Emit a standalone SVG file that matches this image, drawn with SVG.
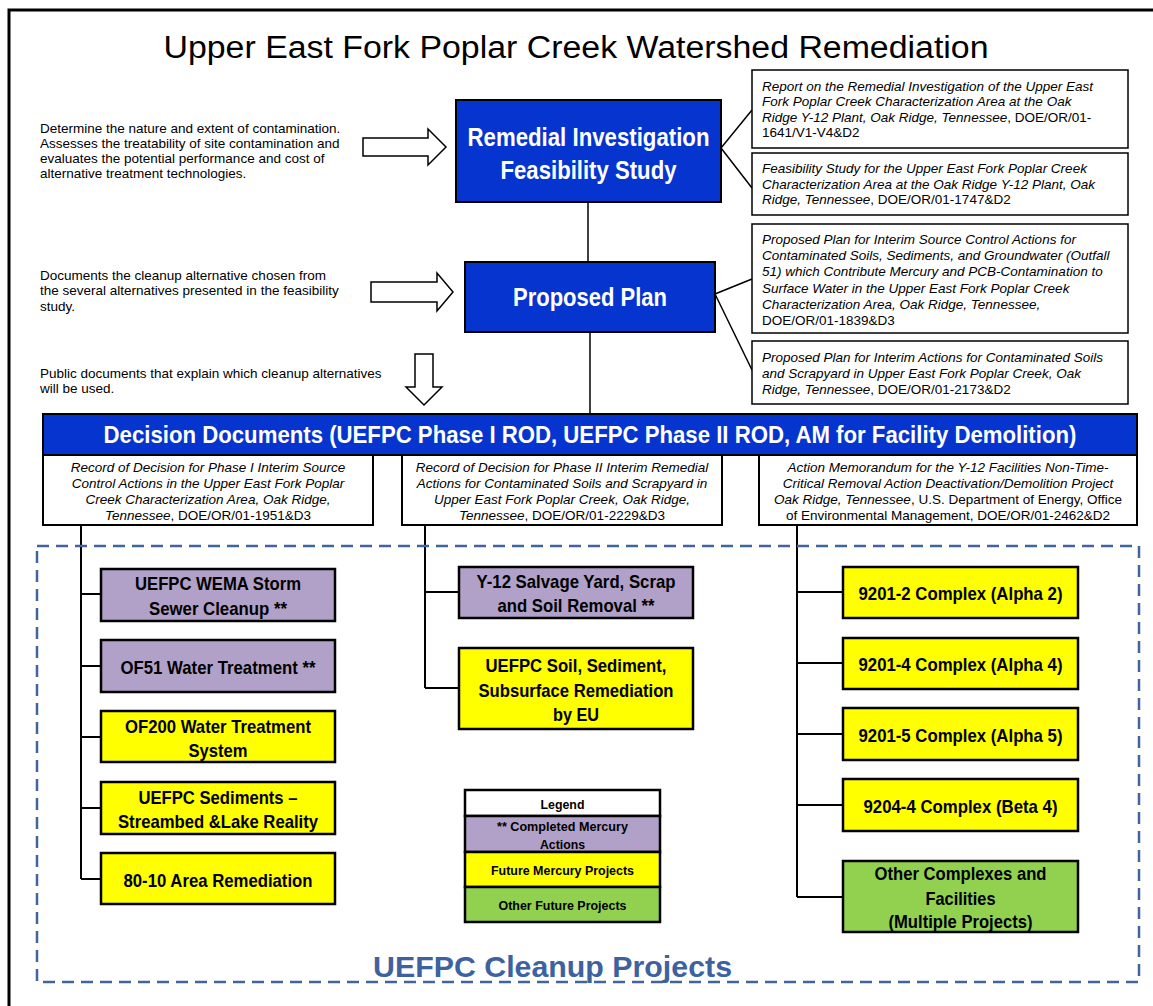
<svg xmlns="http://www.w3.org/2000/svg" width="1153" height="1006" viewBox="0 0 1153 1006">
<style>
text { font-family: "Liberation Sans", Arial, sans-serif; fill:#000; }
.desc { font-size:13.5px; }
.doc { font-size:13.5px; font-style:italic; }
.n { font-style:normal; }
.mid { text-anchor:middle; }
.hb { font-weight:bold; fill:#fff; font-size:25px; text-anchor:middle; }
.pb { font-weight:bold; font-size:19px; text-anchor:middle; }
.lg { font-weight:bold; font-size:13.5px; text-anchor:middle; }
.blue { fill:#0634CE; stroke:#000; stroke-width:2; }
.wbox { fill:#fff; stroke:#000; stroke-width:1.5; }
.dbox { fill:#fff; stroke:#000; stroke-width:2; }
.purple { fill:#B1A0C7; stroke:#000; stroke-width:2.5; }
.yellow { fill:#FFFF00; stroke:#000; stroke-width:2.5; }
.green { fill:#92D050; stroke:#000; stroke-width:2.5; }
.lwhite { fill:#fff; stroke:#000; stroke-width:2.5; }
.conn { stroke:#000; stroke-width:1.5; fill:none; }
.tree { stroke:#000; stroke-width:2; fill:none; }
.harrow { fill:#fff; stroke:#000; stroke-width:1.5; }
</style>
<rect width="1153" height="1006" fill="#fff"/>
<path d="M9,1006 V10 H1153" fill="none" stroke="#000" stroke-width="3"/>
<text x="576" y="58" font-size="31" text-anchor="middle" textLength="825" lengthAdjust="spacingAndGlyphs">Upper East Fork Poplar Creek Watershed Remediation</text>

<g id="desc-rifs">
<text class="desc" x="40" y="132.5">Determine the nature and extent of contamination.</text>
<text class="desc" x="40" y="147.5">Assesses the treatability of site contamination and</text>
<text class="desc" x="40" y="162.5">evaluates the potential performance and cost of</text>
<text class="desc" x="40" y="177.5">alternative treatment technologies.</text>
</g>
<g id="desc-pp">
<text class="desc" x="40" y="279.5">Documents the cleanup alternative chosen from</text>
<text class="desc" x="40" y="295">the several alternatives presented in the feasibility</text>
<text class="desc" x="40" y="310.5">study.</text>
</g>
<g id="desc-dd">
<text class="desc" x="40" y="377.5">Public documents that explain which cleanup alternatives</text>
<text class="desc" x="40" y="393">will be used.</text>
</g>

<g id="arrows">
<polygon class="harrow" points="363,138 428,138 428,129 446,147 428,165 428,156 363,156"/>
<polygon class="harrow" points="371,282 437,282 437,273 453,292 437,311 437,302 371,302"/>
<polygon class="harrow" points="415,354 433,354 433,387 442,387 424,405 406,387 415,387"/>
</g>

<g id="connectors">
<line class="conn" x1="588" y1="202" x2="588" y2="262"/>
<line class="conn" x1="590" y1="332" x2="590" y2="414"/>
<polyline class="conn" points="752,110 721,148 752,188"/>
<polyline class="conn" points="752,279 715,294 752,370"/>
<path class="tree" d="M81,525 V879 M81,594 H101 M81,666 H101 M81,737 H101 M81,808 H101 M81,879 H101"/>
<path class="tree" d="M425,525 V688 M425,592 H459 M425,688 H459"/>
<path class="tree" d="M797,525 V897 M797,592 H843 M797,663 H843 M797,734 H843 M797,805 H843 M797,897 H843"/>
</g>

<g id="rifs">
<rect class="blue" x="456" y="100" width="265" height="102"/>
<text class="hb" x="588.5" y="146" textLength="242" lengthAdjust="spacingAndGlyphs">Remedial Investigation</text>
<text class="hb" x="588.5" y="179" textLength="176" lengthAdjust="spacingAndGlyphs">Feasibility Study</text>
</g>
<g id="doc-ri">
<rect class="wbox" x="752" y="70" width="376" height="78"/>
<text class="doc" x="762" y="90.5">Report on the Remedial Investigation of the Upper East</text>
<text class="doc" x="762" y="106">Fork Poplar Creek Characterization Area at the Oak</text>
<text class="doc" x="762" y="121.5">Ridge Y-12 Plant, Oak Ridge, Tennessee<tspan class="n">, DOE/OR/01-</tspan></text>
<text class="doc" x="762" y="137"><tspan class="n">1641/V1-V4&amp;D2</tspan></text>
</g>
<g id="doc-fs">
<rect class="wbox" x="752" y="153" width="376" height="62"/>
<text class="doc" x="762" y="173">Feasibility Study for the Upper East Fork Poplar Creek</text>
<text class="doc" x="762" y="188.5">Characterization Area at the Oak Ridge Y-12 Plant, Oak</text>
<text class="doc" x="762" y="204">Ridge, Tennessee<tspan class="n">, DOE/OR/01-1747&amp;D2</tspan></text>
</g>

<g id="pp">
<rect class="blue" x="465" y="262" width="250" height="70"/>
<text class="hb" x="590" y="305.5" textLength="154" lengthAdjust="spacingAndGlyphs">Proposed Plan</text>
</g>
<g id="doc-pp1">
<rect class="wbox" x="752" y="224" width="376" height="109"/>
<text class="doc" x="762" y="244">Proposed Plan for Interim Source Control Actions for</text>
<text class="doc" x="762" y="260">Contaminated Soils, Sediments, and Groundwater (Outfall</text>
<text class="doc" x="762" y="276">51) which Contribute Mercury and PCB-Contamination to</text>
<text class="doc" x="762" y="292.5">Surface Water in the Upper East Fork Poplar Creek</text>
<text class="doc" x="762" y="308.5">Characterization Area, Oak Ridge, Tennessee,</text>
<text class="doc" x="762" y="325"><tspan class="n">DOE/OR/01-1839&amp;D3</tspan></text>
</g>
<g id="doc-pp2">
<rect class="wbox" x="752" y="341" width="376" height="63"/>
<text class="doc" x="762" y="362">Proposed Plan for Interim Actions for Contaminated Soils</text>
<text class="doc" x="762" y="378">and Scrapyard in Upper East Fork Poplar Creek, Oak</text>
<text class="doc" x="762" y="394">Ridge, Tennessee<tspan class="n">, DOE/OR/01-2173&amp;D2</tspan></text>
</g>

<g id="decision">
<rect class="blue" x="43" y="414" width="1094" height="41"/>
<text transform="translate(590,443) scale(0.8,1)" x="0" y="0" font-size="24" font-weight="bold" text-anchor="middle" style="fill:#fff" textLength="1216" lengthAdjust="spacingAndGlyphs">Decision Documents (UEFPC Phase I ROD, UEFPC Phase II ROD, AM for Facility Demolition)</text>
</g>
<g id="rod1">
<rect class="dbox" x="43" y="455" width="330" height="70"/>
<text class="doc mid" x="208" y="472">Record of Decision for Phase I Interim Source</text>
<text class="doc mid" x="208" y="488">Control Actions in the Upper East Fork Poplar</text>
<text class="doc mid" x="208" y="504">Creek Characterization Area, Oak Ridge,</text>
<text class="doc mid" x="208" y="520">Tennessee<tspan class="n">, DOE/OR/01-1951&amp;D3</tspan></text>
</g>
<g id="rod2">
<rect class="dbox" x="402" y="455" width="320" height="70"/>
<text class="doc mid" x="562" y="472">Record of Decision for Phase II Interim Remedial</text>
<text class="doc mid" x="562" y="488">Actions for Contaminated Soils and Scrapyard in</text>
<text class="doc mid" x="562" y="504">Upper East Fork Poplar Creek, Oak Ridge,</text>
<text class="doc mid" x="562" y="520">Tennessee<tspan class="n">, DOE/OR/01-2229&amp;D3</tspan></text>
</g>
<g id="am">
<rect class="dbox" x="759" y="455" width="378" height="70"/>
<text class="doc mid" x="948" y="472">Action Memorandum for the Y-12 Facilities Non-Time-</text>
<text class="doc mid" x="948" y="488">Critical Removal Action Deactivation/Demolition Project</text>
<text class="doc mid" x="948" y="504">Oak Ridge, Tennessee<tspan class="n">, U.S. Department of Energy, Office</tspan></text>
<text class="doc mid" x="948" y="520"><tspan class="n">of Environmental Management, DOE/OR/01-2462&amp;D2</tspan></text>
</g>

<g id="cleanup-area">
<rect x="37" y="546" width="1102" height="436" fill="none" stroke="#41649D" stroke-width="2.5" stroke-dasharray="12 7"/>
<text x="552.5" y="977" font-size="30" font-weight="bold" text-anchor="middle" style="fill:#3E62A0" textLength="359" lengthAdjust="spacingAndGlyphs">UEFPC Cleanup Projects</text>
</g>

<g id="p-wema">
<rect class="purple" x="101" y="569" width="234" height="52"/>
<text class="pb" x="218" y="589.5" textLength="166" lengthAdjust="spacingAndGlyphs">UEFPC WEMA Storm</text>
<text class="pb" x="218" y="614.5" textLength="138" lengthAdjust="spacingAndGlyphs">Sewer Cleanup **</text>
</g>
<g id="p-of51">
<rect class="purple" x="101" y="640" width="234" height="52"/>
<text class="pb" x="218" y="673.5" textLength="195" lengthAdjust="spacingAndGlyphs">OF51 Water Treatment **</text>
</g>
<g id="p-of200">
<rect class="yellow" x="101" y="711" width="234" height="51"/>
<text class="pb" x="218" y="733" textLength="186" lengthAdjust="spacingAndGlyphs">OF200 Water Treatment</text>
<text class="pb" x="218" y="757" textLength="59" lengthAdjust="spacingAndGlyphs">System</text>
</g>
<g id="p-sed">
<rect class="yellow" x="101" y="782" width="234" height="52"/>
<text class="pb" x="218" y="804" textLength="159" lengthAdjust="spacingAndGlyphs">UEFPC Sediments –</text>
<text class="pb" x="218" y="828" textLength="200" lengthAdjust="spacingAndGlyphs">Streambed &amp;Lake Reality</text>
</g>
<g id="p-8010">
<rect class="yellow" x="101" y="853" width="234" height="51"/>
<text class="pb" x="218" y="886.5" textLength="189" lengthAdjust="spacingAndGlyphs">80-10 Area Remediation</text>
</g>

<g id="p-salvage">
<rect class="purple" x="459" y="567" width="234" height="51"/>
<text class="pb" x="576" y="588" textLength="199" lengthAdjust="spacingAndGlyphs">Y-12 Salvage Yard, Scrap</text>
<text class="pb" x="576" y="611.5" textLength="157" lengthAdjust="spacingAndGlyphs">and Soil Removal **</text>
</g>
<g id="p-soil">
<rect class="yellow" x="459" y="648" width="234" height="81"/>
<text class="pb" x="576" y="672" textLength="181" lengthAdjust="spacingAndGlyphs">UEFPC Soil, Sediment,</text>
<text class="pb" x="576" y="696.5" textLength="195" lengthAdjust="spacingAndGlyphs">Subsurface Remediation</text>
<text class="pb" x="576" y="720.5" textLength="46" lengthAdjust="spacingAndGlyphs">by EU</text>
</g>

<g id="legend">
<rect class="lwhite" x="465" y="790" width="195" height="26"/>
<rect class="purple" x="465" y="816" width="195" height="36"/>
<rect class="yellow" x="465" y="852" width="195" height="35"/>
<rect class="green" x="465" y="887" width="195" height="35"/>
<text class="lg" x="562.5" y="808.5" textLength="44" lengthAdjust="spacingAndGlyphs">Legend</text>
<text class="lg" x="562.5" y="830.5" textLength="131" lengthAdjust="spacingAndGlyphs">** Completed Mercury</text>
<text class="lg" x="562.5" y="848.5" textLength="45" lengthAdjust="spacingAndGlyphs">Actions</text>
<text class="lg" x="562.5" y="874.5" textLength="143" lengthAdjust="spacingAndGlyphs">Future Mercury Projects</text>
<text class="lg" x="562.5" y="909.5" textLength="128" lengthAdjust="spacingAndGlyphs">Other Future Projects</text>
</g>

<g id="p-9201-2">
<rect class="yellow" x="843" y="567" width="235" height="51"/>
<text class="pb" x="960.5" y="599.5" textLength="204" lengthAdjust="spacingAndGlyphs">9201-2 Complex (Alpha 2)</text>
</g>
<g id="p-9201-4">
<rect class="yellow" x="843" y="638" width="235" height="51"/>
<text class="pb" x="960.5" y="670.5" textLength="204" lengthAdjust="spacingAndGlyphs">9201-4 Complex (Alpha 4)</text>
</g>
<g id="p-9201-5">
<rect class="yellow" x="843" y="708" width="235" height="52"/>
<text class="pb" x="960.5" y="741.5" textLength="204" lengthAdjust="spacingAndGlyphs">9201-5 Complex (Alpha 5)</text>
</g>
<g id="p-9204-4">
<rect class="yellow" x="843" y="779" width="235" height="52"/>
<text class="pb" x="960.5" y="813" textLength="194" lengthAdjust="spacingAndGlyphs">9204-4 Complex (Beta 4)</text>
</g>
<g id="p-other">
<rect class="green" x="843" y="861" width="235" height="71"/>
<text class="pb" x="960.5" y="880" textLength="172" lengthAdjust="spacingAndGlyphs">Other Complexes and</text>
<text class="pb" x="960.5" y="905" textLength="70" lengthAdjust="spacingAndGlyphs">Facilities</text>
<text class="pb" x="960.5" y="928" textLength="144" lengthAdjust="spacingAndGlyphs">(Multiple Projects)</text>
</g>
</svg>
